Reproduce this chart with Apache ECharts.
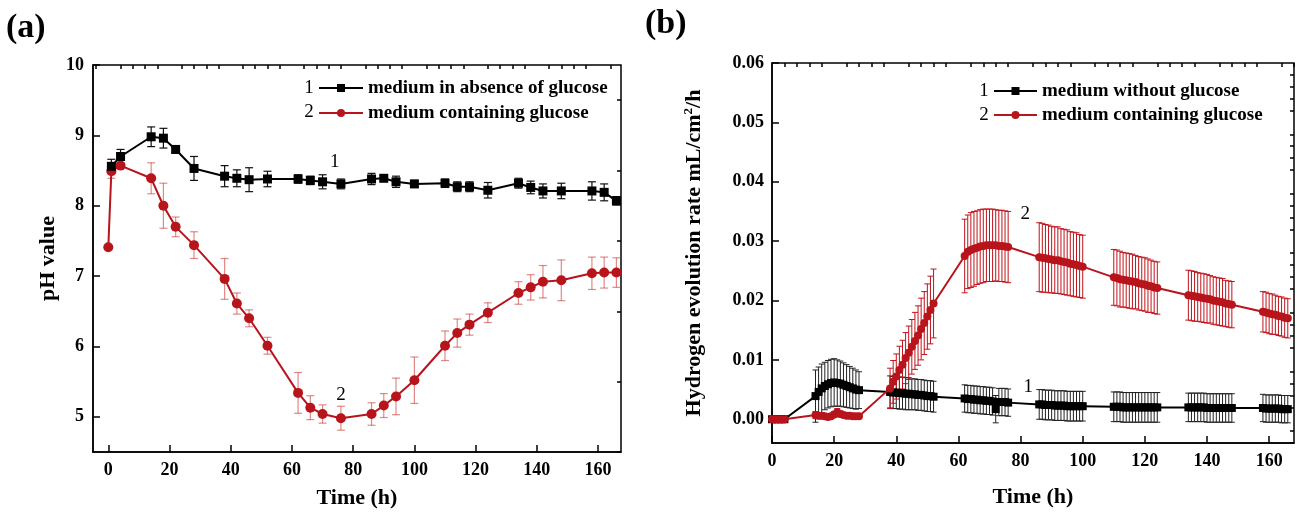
<!DOCTYPE html>
<html><head><meta charset="utf-8">
<script src="https://cdn.jsdelivr.net/npm/echarts@6/dist/echarts.min.js"></script>
<style>html,body{margin:0;padding:0;background:#fff}#c{width:1297px;height:514px}</style>
</head><body><div id="c"></div>
<script>
// ---------- Panel (a): pH ----------
const aTimeBlack = [1,4,14,18,22,28,38,42,46,52,62,66,70,76,86,90,94,100,110,114,118,124,134,138,142,148,158,162,166];
const aBlack = [8.56,8.70,8.98,8.96,8.80,8.53,8.42,8.39,8.37,8.38,8.38,8.36,8.34,8.31,8.38,8.39,8.34,8.31,8.32,8.27,8.27,8.22,8.32,8.26,8.21,8.21,8.21,8.19,8.07];
const aBlackErr = [0.1,0.1,0.14,0.14,0.05,0.17,0.15,0.12,0.17,0.11,0.06,0.06,0.1,0.07,0.08,0.04,0.08,0.05,0.06,0.07,0.07,0.11,0.07,0.09,0.1,0.11,0.13,0.12,0.06];
const aTimeRed = [0,1,4,14,18,22,28,38,42,46,52,62,66,70,76,86,90,94,100,110,114,118,124,134,138,142,148,158,162,166];
const aRed = [7.41,8.49,8.57,8.39,8.00,7.70,7.44,6.96,6.61,6.40,6.01,5.34,5.13,5.04,4.98,5.04,5.16,5.29,5.52,6.01,6.19,6.31,6.48,6.76,6.84,6.92,6.94,7.04,7.05,7.05];
const aRedErr = [0.02,0.1,0.04,0.22,0.32,0.14,0.19,0.29,0.15,0.12,0.12,0.29,0.17,0.13,0.17,0.16,0.17,0.26,0.33,0.21,0.2,0.15,0.14,0.16,0.18,0.23,0.29,0.23,0.22,0.21];
const aXTicks = [0,20,40,60,80,100,120,140,160];
const aXMinor = [-4,4,8,12,16,24,28,32,36,44,48,52,56,64,68,72,76,84,88,92,96,104,108,112,116,124,128,132,136,144,148,152,156,164];
const aYTicks = [5,6,7,8,9,10];
const aYMinor = [4.5,5.5,6.5,7.5,8.5,9.5];
const aNames = ['medium in absence of glucose','medium containing glucose'];

// ---------- Panel (b): hydrogen evolution rate ----------
const bTime = [0,1,2,3,4,
 14,15,16,17,18,19,20,21,22,23,24,25,26,27,28,
 38,39,40,41,42,43,44,45,46,47,48,49,50,51,52,
 62,63,64,65,66,67,68,69,70,71,72,73,74,75,76,
 86,87,88,89,90,91,92,93,94,95,96,97,98,99,100,
 110,111,112,113,114,115,116,117,118,119,120,121,122,123,124,
 134,135,136,137,138,139,140,141,142,143,144,145,146,147,148,
 158,159,160,161,162,163,164,165,166];
const bRed = [0,0,0,0,0,
 0.0007,0.0006,0.0006,0.0005,0.0004,0.0005,0.0008,0.0012,0.0009,0.0007,0.0006,0.0006,0.0005,0.0005,0.0005,
 0.0052,0.0063,0.0072,0.0083,0.0092,0.0103,0.0112,0.0122,0.0132,0.0141,0.0152,0.0162,0.0173,0.0184,0.0195,
 0.0275,0.0282,0.0285,0.0287,0.0289,0.0291,0.0292,0.0293,0.0293,0.0293,0.0293,0.0292,0.0292,0.0291,0.0290,
 0.0273,0.0272,0.0271,0.0270,0.0269,0.0268,0.0268,0.0266,0.0265,0.0264,0.0262,0.0261,0.0260,0.0258,0.0257,
 0.0239,0.0238,0.0236,0.0235,0.0234,0.0233,0.0232,0.0231,0.0229,0.0228,0.0227,0.0225,0.0224,0.0222,0.0221,
 0.0209,0.0208,0.0207,0.0206,0.0205,0.0204,0.0203,0.0202,0.0200,0.0199,0.0198,0.0197,0.0195,0.0194,0.0193,
 0.0181,0.0180,0.0178,0.0177,0.0176,0.0174,0.0173,0.0171,0.0170];
const bRedErr = [0.0002,0.0002,0.0002,0.0002,0.0002,
 0.0006,0.0005,0.0005,0.0004,0.0004,0.0004,0.0005,0.0006,0.0005,0.0004,0.0004,0.0004,0.0003,0.0003,0.0003,
 0.0034,0.0036,0.0038,0.0040,0.0041,0.0043,0.0045,0.0046,0.0048,0.0050,0.0052,0.0053,0.0055,0.0057,0.0058,
 0.0062,0.0062,0.0063,0.0063,0.0062,0.0062,0.0062,0.0061,0.0061,0.0061,0.0060,0.0060,0.0060,0.0060,0.0060,
 0.0058,0.0058,0.0057,0.0057,0.0056,0.0056,0.0056,0.0055,0.0055,0.0055,0.0054,0.0054,0.0054,0.0053,0.0053,
 0.0047,0.0047,0.0047,0.0046,0.0046,0.0046,0.0046,0.0045,0.0045,0.0045,0.0045,0.0045,0.0044,0.0044,0.0044,
 0.0042,0.0042,0.0042,0.0041,0.0041,0.0041,0.0041,0.0040,0.0040,0.0040,0.0040,0.0040,0.0039,0.0039,0.0039,
 0.0034,0.0034,0.0034,0.0034,0.0033,0.0033,0.0033,0.0033,0.0033];
const bBlack = [0,0,0,0,0,
 0.0039,0.0046,0.0052,0.0056,0.0059,0.0061,0.0062,0.0061,0.0060,0.0058,0.0056,0.0054,0.0052,0.0050,0.0049,
 0.0046,0.0045,0.0045,0.0044,0.0044,0.0043,0.0043,0.0042,0.0042,0.0041,0.0041,0.0040,0.0039,0.0039,0.0038,
 0.0035,0.0034,0.0034,0.0033,0.0033,0.0032,0.0032,0.0031,0.0031,0.0030,0.0017,0.0029,0.0029,0.0029,0.0028,
 0.0025,0.0025,0.0024,0.0024,0.0024,0.0023,0.0023,0.0023,0.0023,0.0022,0.0022,0.0022,0.0022,0.0022,0.0022,
 0.0021,0.0021,0.0021,0.0020,0.0020,0.0020,0.0020,0.0020,0.0020,0.0020,0.0020,0.0020,0.0020,0.0020,0.0020,
 0.0020,0.0020,0.0020,0.0020,0.0020,0.0020,0.0019,0.0019,0.0019,0.0019,0.0019,0.0019,0.0019,0.0019,0.0019,
 0.0019,0.0018,0.0018,0.0018,0.0018,0.0018,0.0017,0.0017,0.0017];
const bBlackErr = [0.0002,0.0002,0.0002,0.0002,0.0002,
 0.0044,0.0042,0.0041,0.0040,0.0040,0.0040,0.0040,0.0039,0.0038,0.0037,0.0036,0.0035,0.0034,0.0033,0.0031,
 0.0027,0.0027,0.0027,0.0027,0.0027,0.0027,0.0027,0.0026,0.0026,0.0026,0.0026,0.0026,0.0026,0.0026,0.0026,
 0.0023,0.0023,0.0023,0.0023,0.0023,0.0023,0.0023,0.0023,0.0023,0.0023,0.0023,0.0023,0.0023,0.0023,0.0023,
 0.0025,0.0025,0.0025,0.0025,0.0025,0.0025,0.0025,0.0025,0.0025,0.0025,0.0025,0.0025,0.0025,0.0025,0.0025,
 0.0025,0.0025,0.0025,0.0025,0.0025,0.0025,0.0025,0.0025,0.0025,0.0025,0.0025,0.0025,0.0025,0.0025,0.0025,
 0.0024,0.0024,0.0024,0.0024,0.0024,0.0024,0.0024,0.0024,0.0024,0.0024,0.0024,0.0024,0.0024,0.0024,0.0024,
 0.0023,0.0023,0.0023,0.0023,0.0023,0.0023,0.0023,0.0023,0.0023];
const bXTicks = [0,20,40,60,80,100,120,140,160];
const bXMinor = [4,8,12,16,24,28,32,36,44,48,52,56,64,68,72,76,84,88,92,96,104,108,112,116,124,128,132,136,144,148,152,156,164,168];
const bYTicks = [0,0.01,0.02,0.03,0.04,0.05,0.06];
const bYMinor = [-0.004,-0.002,0.002,0.004,0.006,0.008,0.012,0.014,0.016,0.018,0.022,0.024,0.026,0.028,0.032,0.034,0.036,0.038,0.042,0.044,0.046,0.048,0.052,0.054,0.056,0.058];
const bNames = ['medium without glucose','medium containing glucose'];

// annotation labels (data units)
const aNotes = [['1',74,8.62],['2',76,5.31]];
const bNotes = [['2',81.5,0.0345],['1',82.5,0.0054]];

const FONT = 'Liberation Serif';
const BLACK = '#000000', RED = '#b8141c';

function pairs(t, v){ return t.map((x,i)=>[x, v[i]]); }
function errs(t, v, e){ return t.map((x,i)=>[x, v[i]-e[i], v[i]+e[i]]); }

function errSeries(xi, yi, data, color, cap, lw){
  return {
    type:'custom', xAxisIndex:xi, yAxisIndex:yi, z:1, silent:true,
    encode:{x:0, y:[1,2]},
    data:data,
    renderItem:function(params, api){
      const x = api.value(0);
      const lo = api.coord([x, api.value(1)]);
      const hi = api.coord([x, api.value(2)]);
      const w = cap/2;
      const st = {stroke:color, lineWidth:lw};
      return {type:'group', children:[
        {type:'line', shape:{x1:lo[0],y1:lo[1],x2:hi[0],y2:hi[1]}, style:st},
        {type:'line', shape:{x1:lo[0]-w,y1:lo[1],x2:lo[0]+w,y2:lo[1]}, style:st},
        {type:'line', shape:{x1:hi[0]-w,y1:hi[1],x2:hi[0]+w,y2:hi[1]}, style:st}
      ]};
    }
  };
}

function notes(list){
  return {symbol:'circle', symbolSize:0, silent:true,
    data:list.map(n=>({coord:[n[1],n[2]], value:n[0],
      label:{show:true, position:'inside', formatter:n[0], color:'#000', fontSize:19, fontFamily:FONT, fontWeight:'normal'}}))};
}

const labelStyle = {color:'#000', fontFamily:FONT, fontWeight:'bold', fontSize:18};
const legendText = {color:'#000', fontFamily:FONT, fontWeight:'bold', fontSize:19, lineHeight:20};
const nameStyle = {color:'#000', fontFamily:FONT, fontWeight:'bold', fontSize:22};

function majorAxis(gi, min, max, ticks, extra){
  return Object.assign({
    type:'value', gridIndex:gi, min:min, max:max,
    axisLine:{show:true, onZero:false, lineStyle:{color:'#000', width:1.5}},
    axisTick:{show:true, inside:true, length:7, customValues:ticks, lineStyle:{color:'#000', width:1.5}},
    axisLabel:Object.assign({customValues:ticks, margin:9}, labelStyle),
    splitLine:{show:false}
  }, extra||{});
}
function minorAxis(gi, min, max, ticks){
  return {
    type:'value', gridIndex:gi, min:min, max:max,
    axisLine:{show:false, onZero:false},
    axisTick:{show:true, inside:true, length:4, customValues:ticks, lineStyle:{color:'#000', width:1.5}},
    axisLabel:{show:false}, splitLine:{show:false}
  };
}

const chart = echarts.init(document.getElementById('c'), null, {renderer:'canvas'});
chart.setOption({
  animation:false,
  backgroundColor:'#fff',
  grid:[
    {left:93, top:65, width:528, height:387, show:true, borderColor:'#000', borderWidth:1.5},
    {left:772, top:63, width:522, height:380, show:true, borderColor:'#000', borderWidth:1.5}
  ],
  xAxis:[
    majorAxis(0, -5, 167.5, aXTicks, {name:'Time (h)', nameLocation:'middle', nameGap:35, nameTextStyle:nameStyle}),
    minorAxis(0, -5, 167.5, aXMinor),
    majorAxis(1, 0, 168, bXTicks, {name:'Time (h)', nameLocation:'middle', nameGap:43, nameTextStyle:nameStyle}),
    minorAxis(1, 0, 168, bXMinor)
  ],
  yAxis:[
    majorAxis(0, 4.5, 10, aYTicks, {name:'pH value', nameLocation:'middle', nameGap:34, nameTextStyle:nameStyle}),
    minorAxis(0, 4.5, 10, aYMinor),
    majorAxis(1, -0.004, 0.06, bYTicks, {name:'Hydrogen evolution rate mL/cm{sup|2}/h', nameLocation:'middle', nameGap:66,
      nameTextStyle:Object.assign({}, nameStyle, {rich:{sup:{fontFamily:FONT, fontWeight:'bold', fontSize:13, verticalAlign:'top', padding:[0,0,11,0], color:'#000'}}}),
      axisLabel:Object.assign({customValues:bYTicks, margin:8, formatter:v=>v.toFixed(2)}, labelStyle)}),
    minorAxis(1, -0.004, 0.06, bYMinor)
  ],
  legend:[
    {orient:'vertical', left:313, top:73, itemWidth:44, itemHeight:10, itemGap:5, selectedMode:false,
     data:aNames, textStyle:legendText},
    {orient:'vertical', left:988, top:76, itemWidth:43, itemHeight:10, itemGap:4, selectedMode:false,
     data:bNames, textStyle:legendText}
  ],
  graphic:[
    {type:'text', left:6, top:11, style:{text:'(a)', font:'bold 34px "Liberation Serif"', fill:'#000'}},
    {type:'text', left:645, top:7, style:{text:'(b)', font:'bold 34px "Liberation Serif"', fill:'#000'}},
    {type:'text', x:309, y:88, style:{text:'1', font:'19px "Liberation Serif"', fill:'#000', align:'center', verticalAlign:'middle'}},
    {type:'text', x:309, y:112, style:{text:'2', font:'19px "Liberation Serif"', fill:'#000', align:'center', verticalAlign:'middle'}},
    {type:'text', x:984, y:91, style:{text:'1', font:'19px "Liberation Serif"', fill:'#000', align:'center', verticalAlign:'middle'}},
    {type:'text', x:984, y:115, style:{text:'2', font:'19px "Liberation Serif"', fill:'#000', align:'center', verticalAlign:'middle'}}
  ],
  series:[
    errSeries(0, 0, errs(aTimeRed, aRed, aRedErr), 'rgba(200,40,40,0.55)', 8, 1.2),
    errSeries(0, 0, errs(aTimeBlack, aBlack, aBlackErr), '#111', 8, 1.2),
    {name:aNames[1], type:'line', xAxisIndex:0, yAxisIndex:0, z:3, data:pairs(aTimeRed, aRed),
     symbol:'circle', symbolSize:10, itemStyle:{color:RED}, lineStyle:{color:RED, width:2}, markPoint:notes([aNotes[1]])},
    {name:aNames[0], type:'line', xAxisIndex:0, yAxisIndex:0, z:4, data:pairs(aTimeBlack, aBlack),
     symbol:'rect', symbolSize:9, itemStyle:{color:BLACK}, lineStyle:{color:BLACK, width:2}, markPoint:notes([aNotes[0]])},

    errSeries(2, 2, errs(bTime, bBlack, bBlackErr), '#222', 6, 1),
    errSeries(2, 2, errs(bTime, bRed, bRedErr), '#c0141c', 6, 1),
    {name:bNames[0], type:'line', xAxisIndex:2, yAxisIndex:2, z:3, data:pairs(bTime, bBlack),
     symbol:'rect', symbolSize:8, itemStyle:{color:BLACK}, lineStyle:{color:BLACK, width:2}, markPoint:notes([bNotes[1]])},
    {name:bNames[1], type:'line', xAxisIndex:2, yAxisIndex:2, z:4, data:pairs(bTime, bRed),
     symbol:'circle', symbolSize:8, itemStyle:{color:RED}, lineStyle:{color:RED, width:2}, markPoint:notes([bNotes[0]])}
  ]
});
</script></body></html>
